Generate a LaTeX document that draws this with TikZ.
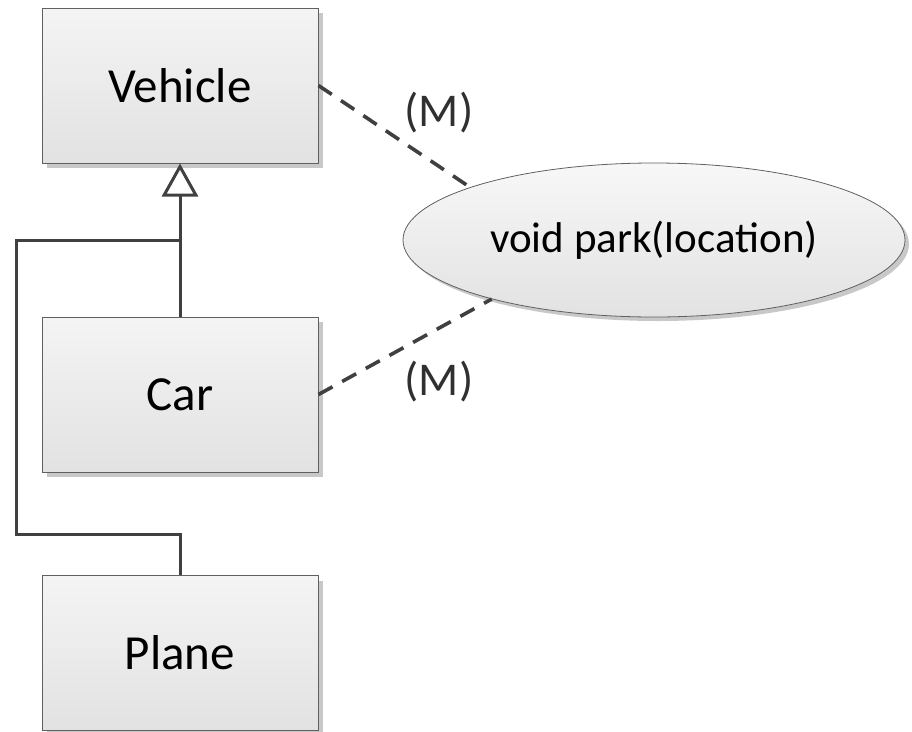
\documentclass[tikz,border=0pt]{standalone}
\usepackage{fontspec}
\setmainfont{Carlito}
\usetikzlibrary{arrows.meta,positioning,calc,shapes.geometric,shadows}
\definecolor{umlink}   {HTML}{404040}
\definecolor{umltext}  {HTML}{303030}
\definecolor{umlrule}  {HTML}{606060}
\definecolor{umltop}   {HTML}{F4F4F4}
\definecolor{umlbottom}{HTML}{E2E2E2}
\definecolor{umlshade} {HTML}{C8C8C8}
\tikzset{
  umlclass/.style={draw=umlrule, line width=1pt, top color=umltop, bottom color=umlbottom,
                   minimum width=276pt, minimum height=155pt, inner sep=0pt,
                   font=\fontsize{49}{58}\selectfont,
                   drop shadow={shadow xshift=5pt, shadow yshift=-5pt, fill=umlshade, opacity=1}},
  umlmethod/.style={ellipse, draw=umlrule, line width=0.8pt, top color=umltop!70!white,
                    bottom color=umlbottom,
                    minimum width=502pt, minimum height=154pt, inner sep=0pt,
                    font=\fontsize{43}{51}\selectfont,
                    drop shadow={shadow xshift=4pt, shadow yshift=-4pt, fill=umlshade, opacity=1}},
  umlinherit/.style={draw=umlink, line width=3pt},
  umllink/.style={draw=umlink, line width=3.6pt, dash pattern=on 16pt off 11pt},
  umllabel/.style={text=umltext, font=\fontsize{47}{56}\selectfont},
}
\begin{document}
\begin{tikzpicture}[x=1pt,y=-1pt]
  \useasboundingbox (0,0) rectangle (912,731);
  % classes
  \node[umlclass] (vehicle) at (180,85.5) {Vehicle};
  \node[umlclass] (car)     at (180,394.5) {Car};
  \node[umlclass] (plane)   at (180,653) {Plane};
  \node[umlmethod] (park) at (654,240) {void park(location)};

  % generalisation
  \coordinate (join) at (180,240);
  \coordinate (bend) at (16,534);
  \draw[umlinherit,{Triangle[open,length=33pt,width=36pt,line width=3pt]}-]
    (vehicle.south) -- (car.north);
  \draw[umlinherit,line join=miter] (plane.north) |- (bend) |- (join);

  % method links
  \draw[umllink] (vehicle.east) -- (park.164);
  \draw[umllink] (car.east) -- (park.200);
  \node[umllabel] (mtop) at (439,113) {(M)};
  \node[umllabel] (mbot) at (439,382) {(M)};
\end{tikzpicture}
\end{document}
